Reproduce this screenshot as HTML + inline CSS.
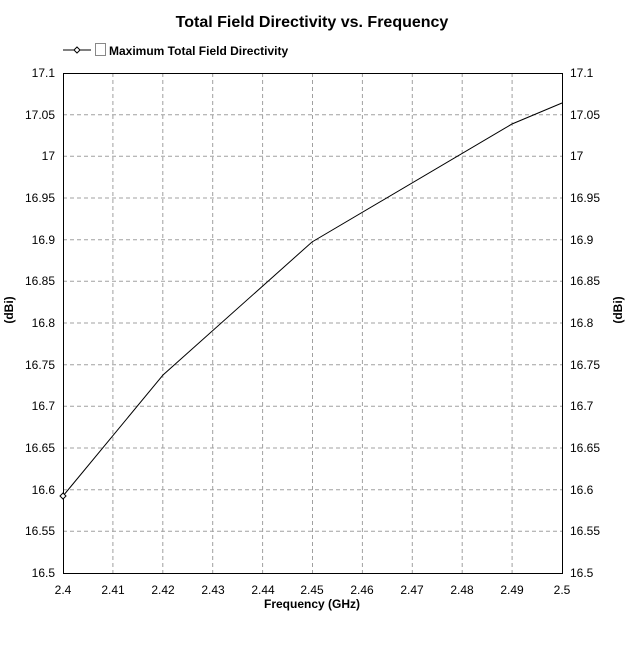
<!DOCTYPE html>
<html><head><style>body{margin:0;background:#fff}</style></head><body>
<svg width="633" height="652" xmlns="http://www.w3.org/2000/svg" font-family="Liberation Sans, Arial, sans-serif">
<rect width="633" height="652" fill="#fff"/>
<text x="312" y="27" text-anchor="middle" font-size="16" font-weight="bold">Total Field Directivity vs. Frequency</text>
<line x1="63" y1="50" x2="91" y2="50" stroke="#000"/>
<path d="M74,50 L77,47 L80,50 L77,53 Z" fill="#fff" stroke="#000"/>
<rect x="95.5" y="43.5" width="10" height="12" fill="#fff" stroke="#888"/>
<text x="109" y="55" font-size="12" font-weight="bold">Maximum Total Field Directivity</text>
<g stroke="#a0a0a0" stroke-dasharray="4,3" stroke-width="1">
<line x1="112.9" y1="73" x2="112.9" y2="573"/><line x1="162.8" y1="73" x2="162.8" y2="573"/><line x1="212.7" y1="73" x2="212.7" y2="573"/><line x1="262.6" y1="73" x2="262.6" y2="573"/><line x1="312.5" y1="73" x2="312.5" y2="573"/><line x1="362.4" y1="73" x2="362.4" y2="573"/><line x1="412.3" y1="73" x2="412.3" y2="573"/><line x1="462.2" y1="73" x2="462.2" y2="573"/><line x1="512.1" y1="73" x2="512.1" y2="573"/>
<line x1="63" y1="114.7" x2="562" y2="114.7"/><line x1="63" y1="156.3" x2="562" y2="156.3"/><line x1="63" y1="198" x2="562" y2="198"/><line x1="63" y1="239.7" x2="562" y2="239.7"/><line x1="63" y1="281.3" x2="562" y2="281.3"/><line x1="63" y1="323" x2="562" y2="323"/><line x1="63" y1="364.7" x2="562" y2="364.7"/><line x1="63" y1="406.3" x2="562" y2="406.3"/><line x1="63" y1="448" x2="562" y2="448"/><line x1="63" y1="489.7" x2="562" y2="489.7"/><line x1="63" y1="531.3" x2="562" y2="531.3"/>
</g>
<rect x="63.5" y="73.5" width="499" height="500" fill="none" stroke="#000"/>
<polyline points="63,496 163,375 312,242 512,124 562,103" fill="none" stroke="#000"/>
<path d="M60,496 L63,493 L66,496 L63,499 Z" fill="#fff" stroke="#000"/>
<g font-size="12" text-anchor="end">
<text x="55" y="77">17.1</text><text x="55" y="119">17.05</text><text x="55" y="160">17</text><text x="55" y="202">16.95</text><text x="55" y="244">16.9</text><text x="55" y="285">16.85</text><text x="55" y="327">16.8</text><text x="55" y="369">16.75</text><text x="55" y="410">16.7</text><text x="55" y="452">16.65</text><text x="55" y="494">16.6</text><text x="55" y="535">16.55</text><text x="55" y="577">16.5</text>
</g>
<g font-size="12" text-anchor="start">
<text x="570" y="77">17.1</text><text x="570" y="119">17.05</text><text x="570" y="160">17</text><text x="570" y="202">16.95</text><text x="570" y="244">16.9</text><text x="570" y="285">16.85</text><text x="570" y="327">16.8</text><text x="570" y="369">16.75</text><text x="570" y="410">16.7</text><text x="570" y="452">16.65</text><text x="570" y="494">16.6</text><text x="570" y="535">16.55</text><text x="570" y="577">16.5</text>
</g>
<g font-size="12" text-anchor="middle">
<text x="63" y="594">2.4</text><text x="113" y="594">2.41</text><text x="163" y="594">2.42</text><text x="213" y="594">2.43</text><text x="263" y="594">2.44</text><text x="312" y="594">2.45</text><text x="362" y="594">2.46</text><text x="412" y="594">2.47</text><text x="462" y="594">2.48</text><text x="512" y="594">2.49</text><text x="562" y="594">2.5</text>
</g>
<text x="312" y="608" text-anchor="middle" font-size="12" font-weight="bold">Frequency (GHz)</text>
<text transform="translate(13,310) rotate(-90)" text-anchor="middle" font-size="12" font-weight="bold">(dBi)</text>
<text transform="translate(622,310) rotate(-90)" text-anchor="middle" font-size="12" font-weight="bold">(dBi)</text>
</svg>
</body></html>
